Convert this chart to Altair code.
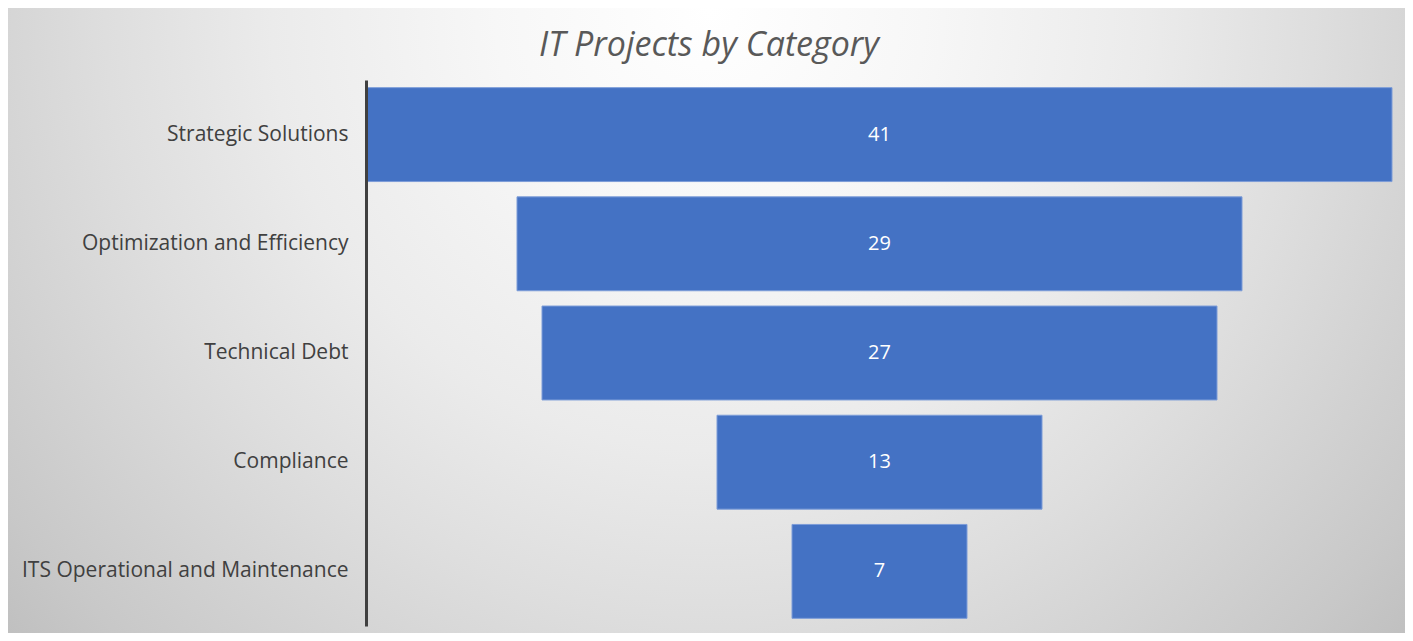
import altair as alt
import pandas as pd

categories = [
    "Strategic Solutions",
    "Optimization and Efficiency",
    "Technical Debt",
    "Compliance",
    "ITS Operational and Maintenance",
]
values = [41, 29, 27, 13, 7]
title_text = "IT Projects by Category"

df = pd.DataFrame({"category": categories, "value": values})

W, H = 1039, 546
FONT = "Open Sans"

bg = alt.Chart(alt.Data(values=[{"k": 1}])).mark_rect(
    fill={
        "gradient": "radial",
        "x1": 0.5, "y1": 0.5, "r1": 0,
        "x2": 0.5, "y2": 0.5, "r2": 0.5,
        "stops": [
            {"offset": 0.0, "color": "#ffffff"},
            {"offset": 0.22, "color": "#f7f7f7"},
            {"offset": 0.45, "color": "#ebebeb"},
            {"offset": 0.62, "color": "#dedede"},
            {"offset": 0.88, "color": "#c8c8c8"},
            {"offset": 1.0, "color": "#bcbcbc"},
        ],
    },
    strokeWidth=0,
).encode(
    x=alt.value(-436), x2=alt.value(1124),
    y=alt.value(-1044), y2=alt.value(906),
)

base = alt.Chart(df).transform_calculate(
    left="-datum.value/2", right="datum.value/2", mid="0"
)

yenc = alt.Y(
    "category:N",
    sort=categories,
    scale=alt.Scale(paddingInner=0.14, paddingOuter=0.07),
    axis=alt.Axis(
        title=None, ticks=False, grid=False, domainColor="#404040",
        domainWidth=3, labelPadding=18, labelFont=FONT, labelFontSize=21,
        labelColor="#404040", zindex=1, labelLimit=400,
    ),
)
xscale = alt.Scale(domain=[-20.54, 21.02], nice=False, zero=False)

bars = base.mark_bar(color="#4472C4", stroke="#7c9cd8", strokeWidth=1).encode(
    y=yenc,
    x=alt.X("left:Q", scale=xscale, axis=None),
    x2="right:Q",
)

labels = base.mark_text(color="white", font=FONT, fontSize=20).encode(
    y=alt.Y("category:N", sort=categories),
    x=alt.X("mid:Q", scale=xscale, axis=None),
    text="value:Q",
)

title = alt.Chart(alt.Data(values=[{"t": title_text}])).mark_text(
    font=FONT, fontStyle="italic", fontSize=34, color="#595959",
    align="center", baseline="alphabetic",
).encode(x=alt.value(343), y=alt.value(-24), text="t:N")

chart = alt.layer(bg, bars, labels, title).properties(
    width=W, height=H,
    autosize=alt.AutoSizeParams(type="none"),
    padding={"left": 358, "top": 72, "right": 0, "bottom": 7},
).configure_view(stroke="transparent").configure(background="white")

chart.save("out.html", embed_options={"renderer": "svg", "actions": False})
